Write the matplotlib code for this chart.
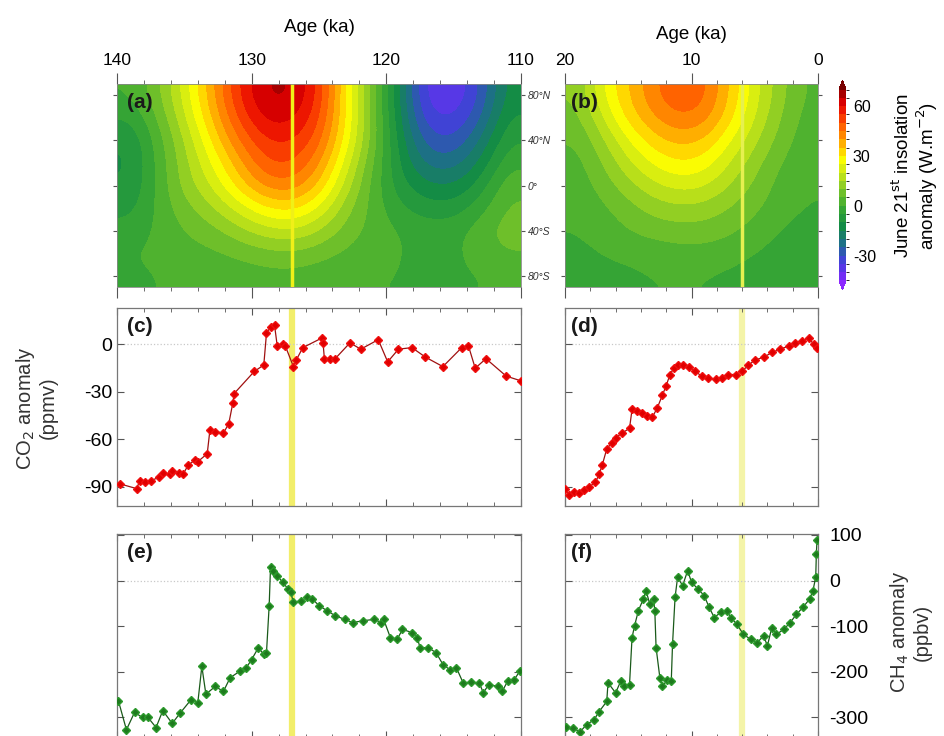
import numpy as np
import matplotlib.pyplot as plt
from matplotlib.colors import LinearSegmentedColormap, BoundaryNorm

plt.rcParams['font.family'] = ['Liberation Sans', 'DejaVu Sans']
plt.rcParams['axes.unicode_minus'] = False

# ---- insolation anomaly fields (W/m2) ----
# cell centres: ages every 2 ka, latitudes every 20 deg (north -> south)
lats = [80, 60, 40, 20, 0, -20, -40, -60, -80]
ages_a = [139, 137, 135, 133, 131, 129, 127, 125, 123, 121, 119, 117, 115, 113, 111]
ins_a = [
    [0, 8, 22, 38, 55, 66, 66, 55, 30, 8, -15, -38, -40, -30, -12],
    [-5, 5, 19, 35, 51, 62, 62, 52, 30, 8, -14, -34, -36, -26, -9],
    [-10, 2, 15, 30, 45, 55, 56, 48, 28, 8, -12, -28, -30, -20, -5],
    [-11, 1, 13, 25, 38, 50, 51, 42, 23, 5, -10, -22, -23, -14, -1],
    [-10, 1, 12, 20, 32, 42, 44, 35, 18, 3, -8, -14, -15, -8, 4],
    [-7, 1, 8, 14, 22, 30, 32, 25, 12, 3, -4, -8, -8, -2, 6],
    [-3, 1, 5, 8, 13, 18, 20, 15, 8, 3, 0, -2, -2, 3, 8],
    [0, 1, 3, 4, 6, 8, 9, 7, 4, 2, 0, -1, -1, 2, 5],
    [-1, 0, 1, 1, 2, 3, 3, 2, 1, 0, 0, -1, -1, 0, 1],
]
ages_b = [19, 17, 15, 13, 11, 9, 7, 5, 3, 1]
ins_b = [
    [10, 25, 35, 44, 50, 47, 35, 22, 12, 4],
    [8, 20, 32, 40, 45, 43, 32, 20, 10, 3],
    [5, 14, 25, 33, 37, 35, 26, 16, 8, 2],
    [3, 10, 19, 26, 30, 28, 20, 12, 5, 1],
    [2, 7, 13, 19, 22, 21, 15, 9, 3, 0],
    [1, 4, 8, 12, 14, 13, 10, 6, 2, 0],
    [0, 2, 5, 7, 8, 8, 6, 3, 0, -2],
    [-1, 0, 1, 2, 3, 3, 2, 0, -2, -3],
    [-2, -1, -1, 0, 0, 0, -1, -2, -3, -3],
]

# ---- CO2 anomaly (ppmv) ----
co2_age_lig = [139.8, 138.55, 138.3, 137.9, 137.5, 136.9, 136.6, 136.1, 135.9, 135.4, 135.1,
               134.7, 134.2, 134.0, 133.3, 133.1, 132.7, 132.1, 131.7, 131.4, 131.3, 129.8,
               129.1, 128.9, 128.6, 128.3, 128.1, 127.7, 127.5, 126.9, 126.7, 126.2, 124.8,
               124.7, 124.6, 124.2, 123.8, 122.7, 121.9, 120.6, 119.9, 119.1, 118.1, 117.1,
               115.8, 114.4, 113.9, 113.4, 112.6, 111.1, 110.0]
co2_lig = [-88, -91, -86, -87, -86, -84, -81, -82, -80, -81, -82,
           -76, -73, -74, -69, -54, -55, -56, -50, -37, -31, -17,
           -13, 7, 11, 12, -1, 0, -1, -14, -10, -2, 4,
           1, -9, -9, -9, 1, -3, 3, -11, -3, -2, -8,
           -14, -2, -1, -15, -9, -20, -23]
co2_age_hol = [20.0, 19.7, 19.3, 18.9, 18.5, 18.1, 17.6, 17.3, 17.05, 16.7, 16.3, 16.0, 15.5,
               14.9, 14.7, 14.3, 13.9, 13.5, 13.1, 12.7, 12.3, 12.0, 11.7, 11.4, 11.1, 10.7,
               10.2, 9.7, 9.2, 8.7, 8.1, 7.6, 7.1, 6.5, 6.0, 5.5, 5.0, 4.3, 3.6, 3.0, 2.3,
               1.8, 1.26, 0.7, 0.35, 0.1]
co2_hol = [-91, -95, -93, -94, -92, -90, -87, -82, -76, -66, -62, -59, -56,
           -53, -41, -42, -43, -45, -46, -40, -32, -26, -19, -15, -13, -13,
           -14, -17, -20, -21, -22, -21, -19, -19, -17, -13, -10, -8, -5, -3, -1,
           1, 2, 4, 0, -2]

# ---- CH4 anomaly (ppbv) ----
ch4_age_lig = [139.9, 139.3, 138.7, 138.1, 137.7, 137.1, 136.6, 135.9, 135.3, 134.5, 134.0,
               133.7, 133.4, 132.7, 132.1, 131.6, 130.9, 130.4, 130.0, 129.5, 129.1, 128.9,
               128.7, 128.6, 128.4, 128.1, 127.7, 127.3, 127.1, 126.9, 126.3, 125.9, 125.5,
               125.0, 124.4, 123.8, 123.1, 122.5, 121.7, 120.9, 120.4, 120.2, 119.7, 119.2,
               118.8, 118.1, 117.7, 117.5, 116.9, 116.3, 115.8, 115.3, 114.8, 114.3, 113.7,
               113.1, 112.8, 112.4, 111.7, 111.4, 111.0, 110.5, 110.1]
ch4_lig = [-263, -327, -289, -300, -300, -322, -285, -313, -290, -261, -268,
           -188, -249, -232, -243, -213, -199, -191, -173, -147, -162, -158,
           -55, 29, 22, 11, -4, -18, -26, -48, -44, -37, -40,
           -55, -66, -77, -85, -92, -88, -85, -92, -85, -125, -129,
           -107, -114, -125, -147, -147, -158, -184, -195, -191, -224, -223,
           -224, -246, -228, -232, -243, -221, -217, -199]
ch4_age_hol = [19.95, 19.4, 18.8, 18.3, 17.7, 17.3, 16.7, 16.6, 16.0, 15.6, 15.3, 14.9,
               14.7, 14.5, 14.2, 13.8, 13.6, 13.3, 13.0, 12.9, 12.8, 12.5, 12.3, 11.9,
               11.6, 11.5, 11.3, 11.1, 10.7, 10.3, 10.0, 9.5, 9.0, 8.6, 8.2, 7.7, 7.2,
               6.9, 6.4, 5.9, 5.3, 4.8, 4.3, 4.0, 3.65, 3.3, 2.7, 2.2, 1.7, 1.2, 0.65,
               0.4, 0.18, 0.13, 0.08]
ch4_hol = [-320, -324, -331, -316, -305, -287, -265, -224, -246, -221, -232, -228,
           -125, -99, -66, -40, -22, -51, -40, -66, -147, -213, -232, -217,
           -221, -140, -37, 7, -11, 22, -4, -18, -33, -59, -81, -70, -66,
           -81, -96, -118, -129, -136, -121, -143, -103, -118, -107, -92, -74, -59, -40,
           -22, 7, 59, 88]

lig_line = 127
hol_line = 6

cmap = LinearSegmentedColormap.from_list('ins', [
    (0.00, '#8c28ff'), (0.06, '#6432f0'), (0.13, '#3c46d2'), (0.20, '#1e6e8c'),
    (0.29, '#148c46'), (0.39, '#3caa32'), (0.48, '#82c828'), (0.57, '#d2eb14'),
    (0.63, '#ffff00'), (0.72, '#ffa000'), (0.81, '#ff5000'), (0.90, '#e60000'),
    (1.00, '#780000')])
levels = np.arange(-45, 71, 5)
norm = BoundaryNorm(levels, cmap.N, extend='both')

fig = plt.figure(figsize=(9.44, 7.36), dpi=100)


def box(x0, y0, x1, y1):
    return [x0 / 944, 1 - y1 / 736, (x1 - x0) / 944, (y1 - y0) / 736]


ax_a = fig.add_axes(box(117, 84, 521, 287))
ax_b = fig.add_axes(box(565, 84, 818, 287))
ax_c = fig.add_axes(box(117, 308, 521, 506))
ax_d = fig.add_axes(box(565, 308, 818, 506))
ax_e = fig.add_axes(box(117, 534, 521, 738))
ax_f = fig.add_axes(box(565, 534, 818, 738))
cax = fig.add_axes(box(839, 80, 846, 290))

# maps
im = ax_a.imshow(np.array(ins_a), extent=(140, 110, -90, 90), aspect='auto', cmap=cmap,
                 norm=norm, interpolation='bicubic', interpolation_stage='data')
ax_b.imshow(np.array(ins_b), extent=(20, 0, -90, 90), aspect='auto', cmap=cmap,
            norm=norm, interpolation='bicubic', interpolation_stage='data')
ax_a.axvline(lig_line, color='#f0f018', lw=2.5)
ax_b.axvline(hol_line, color='#e6f050', lw=2.5)

for ax, lo, hi, major in [(ax_a, 140, 110, [140, 130, 120, 110]), (ax_b, 20, 0, [20, 10, 0])]:
    ax.set_xlim(lo, hi)
    ax.set_ylim(-90, 90)
    ax.set_xticks(major)
    ax.set_xticks(np.arange(min(lo, hi), max(lo, hi) + 1, 2), minor=True)
    ax.tick_params(axis='x', which='both', top=True, bottom=True, labeltop=True,
                   labelbottom=False, direction='out', labelsize=12.5, color='#555555')
    ax.tick_params(axis='x', which='major', length=8)
    ax.tick_params(axis='x', which='minor', length=3)
    ax.set_xlabel('Age (ka)', fontsize=13.5)
    ax.xaxis.set_label_position('top')
    ax.set_yticks([80, 40, 0, -40, -80])
    ax.tick_params(axis='y', left=True, right=True, direction='out', length=3,
                   labelleft=False, labelright=False, color='#555555')
    for s in ax.spines.values():
        s.set_color('#888888')
        s.set_linewidth(0.6)
ax_a.xaxis.labelpad = 15
ax_b.xaxis.labelpad = 10
ax_a.set_yticklabels(['80°N', '40°N', '0°', '40°S', '80°S'], fontstyle='italic',
                     fontsize=7.5, color='#333333')
ax_a.tick_params(axis='y', labelright=True, pad=2)

cb = fig.colorbar(im, cax=cax, extend='both', ticks=[-30, 0, 30, 60])
cb.outline.set_visible(False)
cax.tick_params(labelsize=11.5, length=0, pad=5)
fig.text(916 / 944, 1 - 176 / 736, 'June 21$^{\\rm st}$ insolation\nanomaly (W.m$^{-2}$)',
         rotation=90, ha='center', va='center', fontsize=13.5, linespacing=1.1)

# CO2 and CH4 panels
for ax, lo, hi, major, xl in [(ax_c, 140, 110, [140, 130, 120, 110], lig_line),
                              (ax_e, 140, 110, [140, 130, 120, 110], lig_line),
                              (ax_d, 20, 0, [20, 10, 0], hol_line),
                              (ax_f, 20, 0, [20, 10, 0], hol_line)]:
    ax.set_xlim(lo, hi)
    ax.set_xticks(major)
    ax.set_xticks(np.arange(min(lo, hi), max(lo, hi) + 1, 2), minor=True)
    ax.tick_params(which='both', direction='in', top=True, right=True,
                   labelbottom=False, color='#555555')
    ax.tick_params(which='major', length=5)
    ax.tick_params(which='minor', length=3)
    ax.axvline(xl, color='#f2ee6a' if ax in (ax_c, ax_e) else '#f4f4a8', lw=4.5, zorder=1)
    ax.axhline(0, color='#c8c8c8', lw=0.9, ls=':', zorder=1)
    for s in ax.spines.values():
        s.set_color('#777777')
        s.set_linewidth(0.9)

for ax, a, v in [(ax_c, co2_age_lig, co2_lig), (ax_d, co2_age_hol, co2_hol)]:
    ax.plot(a, v, '-', color='#a01010', lw=0.9, marker='D', ms=4.5,
            mfc='#e00000', mec='#f01010', zorder=3)
    ax.set_ylim(-102, 23)
    ax.set_yticks([0, -30, -60, -90])
ax_c.tick_params(axis='y', labelsize=14)
ax_d.tick_params(axis='y', labelleft=False)

for ax, a, v in [(ax_e, ch4_age_lig, ch4_lig), (ax_f, ch4_age_hol, ch4_hol)]:
    ax.plot(a, v, '-', color='#1a5a1a', lw=0.9, marker='D', ms=4.5,
            mfc='#1e7a1e', mec='#2c9a2c', zorder=3)
    ax.set_ylim(-345, 102)
    ax.set_yticks([100, 0, -100, -200, -300])
ax_e.tick_params(axis='y', labelleft=False)
ax_f.tick_params(axis='y', labelleft=False, labelright=True, labelsize=14, pad=8)

fig.text(36 / 944, 1 - 408 / 736, 'CO$_2$ anomaly\n(ppmv)', rotation=90,
         ha='center', va='center', fontsize=14.5, color='#333333', linespacing=1.1)
fig.text(910 / 944, 1 - 632 / 736, 'CH$_4$ anomaly\n(ppbv)', rotation=90,
         ha='center', va='center', fontsize=14.5, color='#333333', linespacing=1.1)

for ax, lab in [(ax_a, '(a)'), (ax_b, '(b)'), (ax_c, '(c)'), (ax_d, '(d)'),
                (ax_e, '(e)'), (ax_f, '(f)')]:
    ax.text(0.025, 0.955, lab, transform=ax.transAxes, ha='left', va='top',
            fontsize=15, fontweight='bold', color='#1a1a1a', zorder=5)

fig.savefig('out.png', dpi=100)
